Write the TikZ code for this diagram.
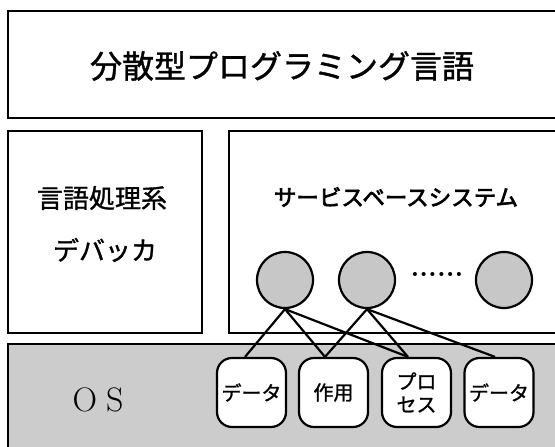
\documentclass[tikz,border=0pt]{standalone}
\usepackage{fontspec}
\newfontfamily\jp{Noto Sans CJK JP}[FakeBold=1.2]
\newfontfamily\jpb{Noto Sans CJK JP}[FakeBold=3]
\tikzset{
  frame/.style={draw=black, line width=2.4pt},
  proc/.style={draw=black, line width=2.2pt, circle, fill=black!22, minimum size=56pt, inner sep=0pt},
  resbox/.style={draw=black, line width=2.2pt, rounded corners=15pt, fill=white, minimum width=69pt, minimum height=69pt, inner sep=0pt, align=center, font=\jp\fontsize{20pt}{23pt}\selectfont},
  link/.style={draw=black, line width=2.2pt},
  lbl/.style={inner sep=0pt, align=center}
}
\begin{document}
\begin{tikzpicture}[x=1pt,y=-1pt]
\useasboundingbox (0,0) rectangle (555,447);
\clip (0,0) rectangle (555,447);
\fill[white] (0,0) rectangle (555,447);
% top box
\draw[frame] (8,11) rectangle (565,118);
\node[lbl, font=\jp\fontsize{32pt}{34pt}\selectfont] (title) at (282,66) {分散型プログラミング言語};
% left box
\draw[frame] (8,131) rectangle (202,333);
\node[lbl, font=\jp\fontsize{26pt}{28pt}\selectfont] (lang) at (102,198) {言語処理系};
\node[lbl, font=\jp\fontsize{26pt}{28pt}\selectfont] (dbg) at (105,250) {デバッカ};
% service box
\draw[frame] (229,131) rectangle (565,333);
\node[lbl, font=\jpb\fontsize{22.5pt}{24pt}\selectfont] (svc) at (396,197) {サービスベースシステム};
% OS band
\draw[frame, fill=black!20] (8,344) rectangle (565,460);
\node[lbl, font=\fontsize{34pt}{36pt}\selectfont] (os) at (98,400) {O\kern9pt S};
% circles
\node[proc] (c1) at (285,280) {};
\node[proc] (c2) at (367,280) {};
\node[proc] (c3) at (504,280) {};
\node[lbl, font=\bfseries\fontsize{28pt}{28pt}\selectfont] (dots) at (437,274) {......};
% boxes
\node[resbox] (b1) at (251.5,392.5) {データ};
\node[resbox] (b2) at (333.5,392.5) {作用};
\node[resbox] (b3) at (416.5,392.5) {プロ\\セス};
\node[resbox] (b4) at (499,392.5) {データ};
% links
\draw[link] (c1.south) -- ([xshift=-6.5pt]b1.north);
\draw[link] (c1.south) -- ([xshift=-8.5pt]b2.north);
\draw[link] (c1.south) -- ([xshift=-8.5pt]b3.north);
\draw[link] (c2.south) -- ([xshift=-8.5pt]b2.north);
\draw[link] (c2.south) -- ([xshift=-8.5pt]b3.north);
\draw[link] (c2.south) -- ([xshift=-4pt]b4.north);
\end{tikzpicture}
\end{document}
